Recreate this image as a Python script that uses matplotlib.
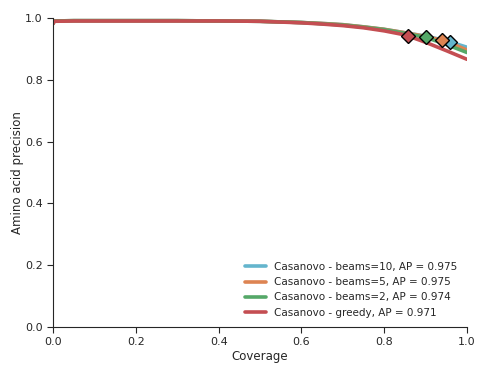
import matplotlib
matplotlib.use("Agg")
import matplotlib.pyplot as plt
import seaborn as sns

sns.set_style("ticks")

coverage = [0.0, 0.003, 0.05, 0.1, 0.2, 0.3, 0.4, 0.5, 0.6, 0.65, 0.7, 0.75, 0.8, 0.85, 0.9, 0.95, 1.0]
prec_beams10 = [0.982, 0.990, 0.991, 0.991, 0.991, 0.991, 0.990, 0.989, 0.985, 0.982, 0.978, 0.971, 0.963, 0.952, 0.941, 0.926, 0.905]
prec_beams5 = [0.982, 0.990, 0.991, 0.991, 0.991, 0.991, 0.990, 0.989, 0.985, 0.982, 0.978, 0.971, 0.963, 0.952, 0.940, 0.924, 0.896]
prec_beams2 = [0.982, 0.990, 0.991, 0.991, 0.991, 0.991, 0.990, 0.989, 0.985, 0.981, 0.977, 0.970, 0.962, 0.950, 0.937, 0.914, 0.888]
prec_greedy = [0.981, 0.989, 0.990, 0.990, 0.990, 0.990, 0.990, 0.989, 0.984, 0.980, 0.975, 0.968, 0.958, 0.945, 0.921, 0.894, 0.866]

labels = ["Casanovo - beams=10, AP = 0.975",
          "Casanovo - beams=5, AP = 0.975",
          "Casanovo - beams=2, AP = 0.974",
          "Casanovo - greedy, AP = 0.971"]
colors = ["#64B5CD", "#DD8452", "#55A868", "#C44E52"]
marker_x = [0.959, 0.939, 0.900, 0.858]
marker_y = [0.922, 0.929, 0.938, 0.943]

series = [prec_beams10, prec_beams5, prec_beams2, prec_greedy]

fig = plt.figure(figsize=(4.78, 3.65), dpi=100)
ax = fig.add_axes([0.111, 0.104, 0.866, 0.847])

for s, lab, c in zip(series, labels, colors):
    ax.plot(coverage, s, color=c, lw=2.6, label=lab)
for mx, my, c in zip(marker_x, marker_y, colors):
    ax.plot([mx], [my], marker="D", ms=7.5, color=c, mec="black", mew=1.0, zorder=5)

ax.set_xlim(0, 1)
ax.set_ylim(0, 1)
ax.set_xticks([0, 0.2, 0.4, 0.6, 0.8, 1.0])
ax.set_yticks([0, 0.2, 0.4, 0.6, 0.8, 1.0])
ax.tick_params(labelsize=8, length=4)
ax.set_xlabel("Coverage", fontsize=8.5, labelpad=2)
ax.set_ylabel("Amino acid precision", fontsize=8.5, labelpad=1)
sns.despine(ax=ax)
ax.legend(loc="lower right", frameon=False, fontsize=7.5, handlelength=2.0)

fig.savefig("out.png", dpi=100)
